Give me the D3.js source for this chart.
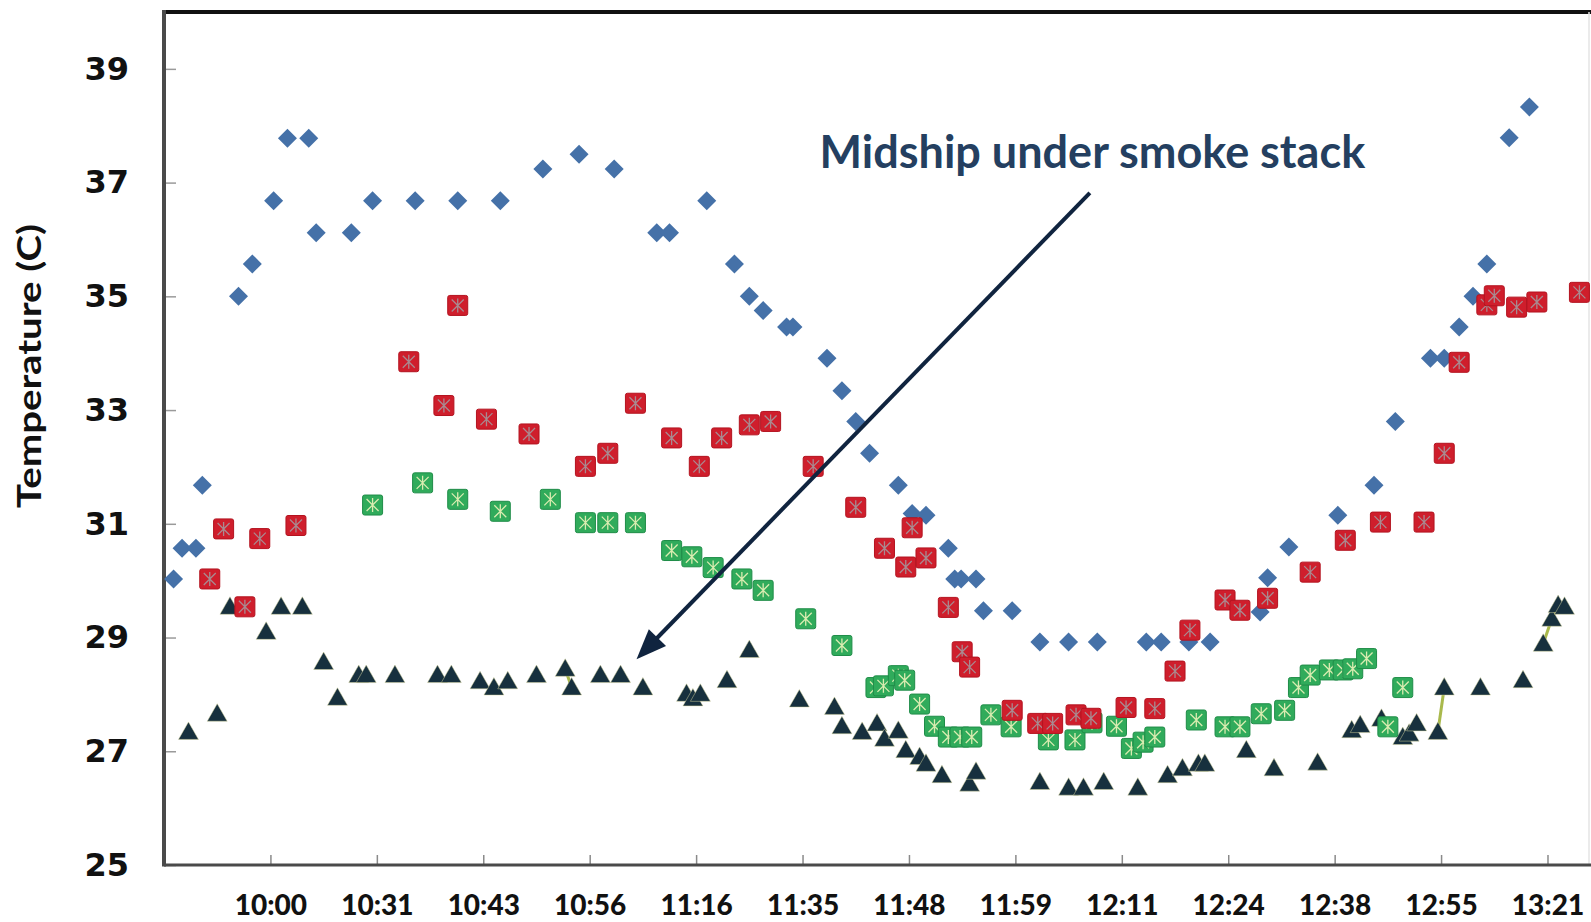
<!DOCTYPE html>
<html>
<head>
<meta charset="utf-8">
<script src="https://cdn.jsdelivr.net/npm/d3@7"></script>
<style>
body { margin:0; background:#fff; }
svg { display:block; }
</style>
</head>
<body>
<svg id="chart" width="1591" height="922"></svg>
<script>
// x values are positions along the time axis, counted in tick intervals (tick n sits at n)
var tickLabels = ['10:00','10:31','10:43','10:56','11:16','11:35','11:48','11:59','12:11','12:24','12:38','12:55','13:21']
var yTicks = [25,27,29,31,33,35,37,39]

var blueX = [0.09,0.17,0.30,0.36,0.70,0.83,1.03,1.16,1.36,1.43,1.76,1.96,2.36,2.76,3.16,3.56,3.90,4.23,4.63,4.75,
	5.10,5.36,5.50,5.63,5.85,5.91,6.23,6.37,6.50,6.63,6.90,7.03,7.16,7.37,7.43,7.49,7.63,7.70,7.97,8.23,
	8.50,8.77,9.23,9.37,9.63,9.83,10.30,10.37,10.57,11.03,11.37,11.57,11.90,12.03,12.17,12.30,12.43,12.64,12.83]
var blueY = [30.03,30.57,30.57,31.68,35.0,35.57,36.68,37.78,37.78,36.12,36.12,36.68,36.68,36.68,36.68,37.24,37.5,37.24,36.12,36.12,
	36.68,35.57,35.0,34.75,34.46,34.46,33.91,33.34,32.8,32.24,31.68,31.18,31.15,30.57,30.03,30.03,30.03,29.47,29.47,28.92,
	28.92,28.92,28.92,28.92,28.92,28.92,29.45,30.05,30.59,31.15,31.68,32.8,33.91,33.91,34.46,35.0,35.57,37.79,38.33]

var redX = [0.43,0.56,0.76,0.90,1.24,2.30,2.63,2.76,3.03,3.43,3.96,4.17,4.43,4.77,5.03,5.24,5.50,5.70,6.10,6.50,
	6.77,6.97,7.03,7.16,7.37,7.50,7.57,7.97,8.21,8.35,8.57,8.71,9.04,9.31,9.50,9.64,9.97,10.11,10.37,10.77,
	11.10,11.43,11.84,12.03,12.17,12.43,12.50,12.71,12.90,13.30]
var redY = [30.03,30.91,29.54,30.74,30.97,33.85,33.08,34.84,32.84,32.58,32.01,32.24,33.12,32.51,32.01,32.51,32.74,32.8,32.01,31.29,
	30.57,30.24,30.93,30.4,29.53,28.75,28.48,27.72,27.49,27.49,27.64,27.58,27.77,27.75,28.41,29.13,29.66,29.48,29.69,30.15,
	30.71,31.03,31.03,32.24,33.84,34.85,35.01,34.81,34.9,35.07]

var greenX = [1.96,2.43,2.76,3.16,3.63,3.96,4.17,4.43,4.77,4.96,5.16,5.43,5.63,6.03,6.37,6.69,6.76,6.90,6.96,7.10,
	7.24,7.37,7.48,7.59,7.77,7.96,8.31,8.56,8.72,8.95,9.09,9.20,9.31,9.70,9.97,10.11,10.31,10.53,10.66,10.77,
	10.95,11.08,11.17,11.30,11.50,11.64]
var greenY = [31.33,31.72,31.43,31.22,31.43,31.02,31.02,31.02,30.53,30.42,30.23,30.03,29.83,29.33,28.86,28.12,28.15,28.33,28.25,27.83,
	27.44,27.25,27.25,27.25,27.64,27.43,27.2,27.2,27.5,27.44,27.05,27.16,27.25,27.55,27.43,27.43,27.66,27.72,28.12,28.34,
	28.43,28.43,28.45,28.63,27.43,28.12]

var triX = [0.23,0.50,0.62,0.96,1.10,1.30,1.50,1.63,1.83,1.90,2.17,2.57,2.70,2.97,3.10,3.23,3.50,3.77,3.83,4.10,
	4.29,4.50,4.91,4.97,5.04,5.29,5.50,5.97,6.30,6.37,6.56,6.70,6.77,6.90,6.97,7.10,7.16,7.31,7.57,7.63,
	8.23,8.50,8.64,8.83,9.15,9.43,9.57,9.72,9.78,10.17,10.43,10.84,11.16,11.24,11.44,11.64,11.70,11.77,11.97,12.03,
	12.37,12.77,12.96,13.04,13.10,13.16]
var triY = [27.34,27.66,29.54,29.1,29.54,29.54,28.57,27.94,28.34,28.34,28.34,28.34,28.34,28.23,28.12,28.23,28.34,28.45,28.12,28.34,
	28.34,28.12,28.01,27.93,28.01,28.25,28.78,27.91,27.78,27.44,27.34,27.49,27.22,27.36,27.02,26.9,26.78,26.58,26.43,26.64,
	26.46,26.36,26.36,26.46,26.36,26.58,26.7,26.78,26.78,27.02,26.7,26.8,27.37,27.46,27.57,27.25,27.31,27.49,27.34,28.12,
	28.12,28.25,28.89,29.33,29.57,29.54]
// short joining strokes between neighbouring triangles (index pairs)
var triLinks = [[17,18],[58,59],[62,63],[63,64]]

var note = {text:'Midship under smoke stack', tx:6.16, ty:37.25, x1:8.70, y1:36.82, x2:4.44, y2:28.62}

var chart = {}
chart.left = 164
chart.right = 1589
chart.top = 12
chart.bottom = 865
chart.font = 'Lato, "Open Sans", sans-serif'

var svg = d3.select('#chart')
svg.append('rect').attr('width',1591).attr('height',922).attr('fill','#fff')

var x = d3.scaleLinear()
	.domain([0,13.39])
	.range([chart.left,chart.right]),
y = d3.scaleLinear()
	.domain([25,40])
	.range([chart.bottom,chart.top]);

function zip(xs,ys) {
	return xs.map(function(d,i){ return {x:d, y:ys[i]} })
}

// axes
var yAxis = svg.append('g')
	.attr('transform','translate(' + chart.left + ',0)')
	.call(d3.axisLeft(y).tickValues(yTicks).tickSize(-12).tickPadding(35).tickFormat(d3.format('d')))
yAxis.select('.domain').remove()
yAxis.selectAll('line').attr('stroke','#9a9a9a').attr('stroke-width',1.5)
yAxis.selectAll('text')
	.style('font-family','"DejaVu Sans", Verdana, sans-serif')
	.style('font-weight',700)
	.style('font-size','32px')
	.attr('fill','#111')

var xAxis = svg.append('g')
	.attr('transform','translate(0,' + chart.bottom + ')')
	.call(d3.axisBottom(x).tickValues(d3.range(1,14)).tickSize(-10).tickPadding(30)
		.tickFormat(function(d){ return tickLabels[d-1] }))
xAxis.select('.domain').remove()
xAxis.selectAll('line').attr('stroke','#8a8a8a').attr('stroke-width',1.5)
xAxis.selectAll('text')
	.style('font-family',chart.font)
	.style('font-weight',900)
	.style('font-size','28px')
	.attr('fill','#111')

// frame
svg.append('line')
	.attr('x1',chart.left).attr('x2',1591)
	.attr('y1',chart.top).attr('y2',chart.top)
	.attr('stroke','#111').attr('stroke-width',4)
svg.append('line')
	.attr('x1',chart.right).attr('x2',chart.right)
	.attr('y1',chart.top).attr('y2',chart.bottom)
	.attr('stroke','#e4e4e4').attr('stroke-width',1.5)
svg.append('line')
	.attr('x1',chart.left).attr('x2',1591)
	.attr('y1',chart.bottom).attr('y2',chart.bottom)
	.attr('stroke','#4a4a4a').attr('stroke-width',3)
svg.append('line')
	.attr('x1',chart.left).attr('x2',chart.left)
	.attr('y1',chart.top - 2).attr('y2',chart.bottom + 1.5)
	.attr('stroke','#4a4a4a').attr('stroke-width',4)

svg.append('text')
	.attr('transform','translate(41,366) rotate(-90)')
	.attr('text-anchor','middle')
	.attr('textLength',284)
	.attr('lengthAdjust','spacingAndGlyphs')
	.style('font-family',chart.font)
	.style('font-weight',700)
	.style('font-size','32px')
	.attr('fill','#111')
	.text('Temperature (C)')

// triangles (bottom layer)
var tri = zip(triX,triY)
svg.append('g').selectAll('line')
	.data(triLinks)
	.enter().append('line')
	.attr('x1',function(d){ return x(tri[d[0]].x) })
	.attr('y1',function(d){ return y(tri[d[0]].y) })
	.attr('x2',function(d){ return x(tri[d[1]].x) })
	.attr('y2',function(d){ return y(tri[d[1]].y) })
	.attr('stroke','#a9b94c')
	.attr('stroke-width',3)
svg.append('g').selectAll('path')
	.data(tri)
	.enter().append('path')
	.attr('transform',function(d){ return 'translate(' + x(d.x) + ',' + y(d.y) + ')' })
	.attr('d','M0,-10L10,7.5L-10,7.5Z')
	.attr('fill','#17303e')
	.attr('stroke','#d9d6a0')
	.attr('stroke-width',0.8)
	.attr('stroke-opacity',0.6)

// square markers with a cross inside
function squares(data,fill,edge,cross) {
	var g = svg.append('g').selectAll('g')
		.data(data)
		.enter().append('g')
		.attr('transform',function(d){ return 'translate(' + x(d.x) + ',' + y(d.y) + ')' })
	g.append('rect')
		.attr('x',-10).attr('y',-10)
		.attr('width',20).attr('height',20)
		.attr('rx',2)
		.attr('fill',fill)
		.attr('stroke',edge)
		.attr('stroke-width',1)
	g.append('path')
		.attr('d','M-6,-6L6,6M6,-6L-6,6M0,-7L0,7')
		.attr('stroke',cross)
		.attr('stroke-width',1.3)
		.attr('fill','none')
}

squares(zip(greenX,greenY),'#30ab5b','#1f8c48','#d9ecb0')

svg.append('g').selectAll('path')
	.data(zip(blueX,blueY))
	.enter().append('path')
	.attr('transform',function(d){ return 'translate(' + x(d.x) + ',' + y(d.y) + ')' })
	.attr('d','M0,-9.5L9.5,0L0,9.5L-9.5,0Z')
	.attr('fill','#4571a8')

squares(zip(redX,redY),'#cf1e2c','#b3131f','#a98a90')

// annotation
var ax1 = x(note.x1), ay1 = y(note.y1), ax2 = x(note.x2), ay2 = y(note.y2)
var len = Math.sqrt((ax2-ax1)*(ax2-ax1) + (ay2-ay1)*(ay2-ay1))
var ux = (ax2-ax1)/len, uy = (ay2-ay1)/len
var head = 30, half = 12
svg.append('line')
	.attr('x1',ax1).attr('y1',ay1)
	.attr('x2',ax2 - ux*(head-4)).attr('y2',ay2 - uy*(head-4))
	.attr('stroke','#10243f')
	.attr('stroke-width',4)
svg.append('path')
	.attr('d','M' + ax2 + ',' + ay2 +
		'L' + (ax2 - ux*head - uy*half) + ',' + (ay2 - uy*head + ux*half) +
		'L' + (ax2 - ux*head + uy*half) + ',' + (ay2 - uy*head - ux*half) + 'Z')
	.attr('fill','#10243f')

svg.append('text')
	.attr('x',x(note.tx))
	.attr('y',y(note.ty))
	.style('font-family',chart.font)
	.style('font-weight',700)
	.style('font-size','45px')
	.attr('fill','#243f60')
	.text(note.text)
</script>
</body>
</html>
